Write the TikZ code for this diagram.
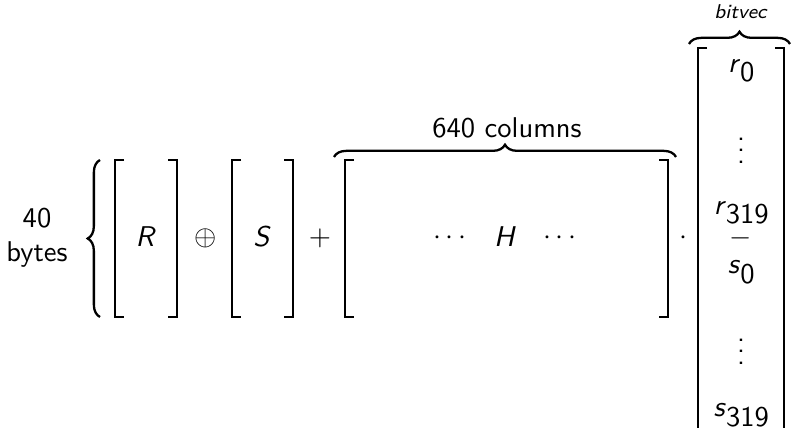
\documentclass[tikz,border=0pt]{standalone}
\usetikzlibrary{decorations.pathreplacing}
\renewcommand\familydefault{\sfdefault}
\newcommand\sv[2]{\textit{#1}$_{\textsf{#2}}$}
\newcommand\mbrk[4]{%
  \draw[brk] (#1+9,#3) -- (#1,#3) -- (#1,#4) -- (#1+9,#4);
  \draw[brk] (#2-9,#3) -- (#2,#3) -- (#2,#4) -- (#2-9,#4);}
\begin{document}
\begin{tikzpicture}[x=0.35pt,y=-0.35pt,
  brk/.style={line width=0.5pt},
  brc/.style={decorate,decoration={brace,amplitude=4.3pt},line width=0.8pt},
  lbl/.style={inner sep=0pt}]
\useasboundingbox (0,0) rectangle (792,428);
\clip (0,0) rectangle (792,428);
% left label and brace
\node[lbl,align=center] (bytes) at (37,238) {40\\bytes};
\draw[brc] (100,317) -- (100,160);
% R
\mbrk{115}{177}{160}{317}
\node[lbl] (R) at (146,237) {\textit{R}};
\node[lbl] (oplus) at (206,238) {$\oplus$};
% S
\mbrk{232}{293}{160}{317}
\node[lbl] (S) at (262,237) {\textit{S}};
\node[lbl] (plus) at (320,238) {$+$};
% H
\mbrk{345}{668}{160}{317}
\draw[brc] (334,157) -- (676,157);
\node[lbl] (cols) at (507,128) {640 columns};
\node[lbl] (cd1) at (450,238) {$\cdots$};
\node[lbl] (H) at (505,237) {\textit{H}};
\node[lbl] (cd2) at (560,238) {$\cdots$};
\node[lbl] (dot) at (683,238) {$\cdot$};
% vector
\mbrk{698}{784}{48}{460}
\draw[brc] (689,44) -- (790,44);
\node[lbl] (bitvec) at (741,12) {\scriptsize\textit{bitvec}};
\node[lbl] (r0) at (742,71) {\sv{r}{0}};
\node[lbl] (vd1) at (741,142) {$\vdots$};
\node[lbl] (r319) at (742,213) {\sv{r}{319}};
\node[lbl] (sep) at (741,238) {$-$};
\node[lbl] (s0) at (742,272) {\sv{s}{0}};
\node[lbl] (vd2) at (741,343) {$\vdots$};
\node[lbl] (s319) at (742,415) {\sv{s}{319}};
\end{tikzpicture}
\end{document}
